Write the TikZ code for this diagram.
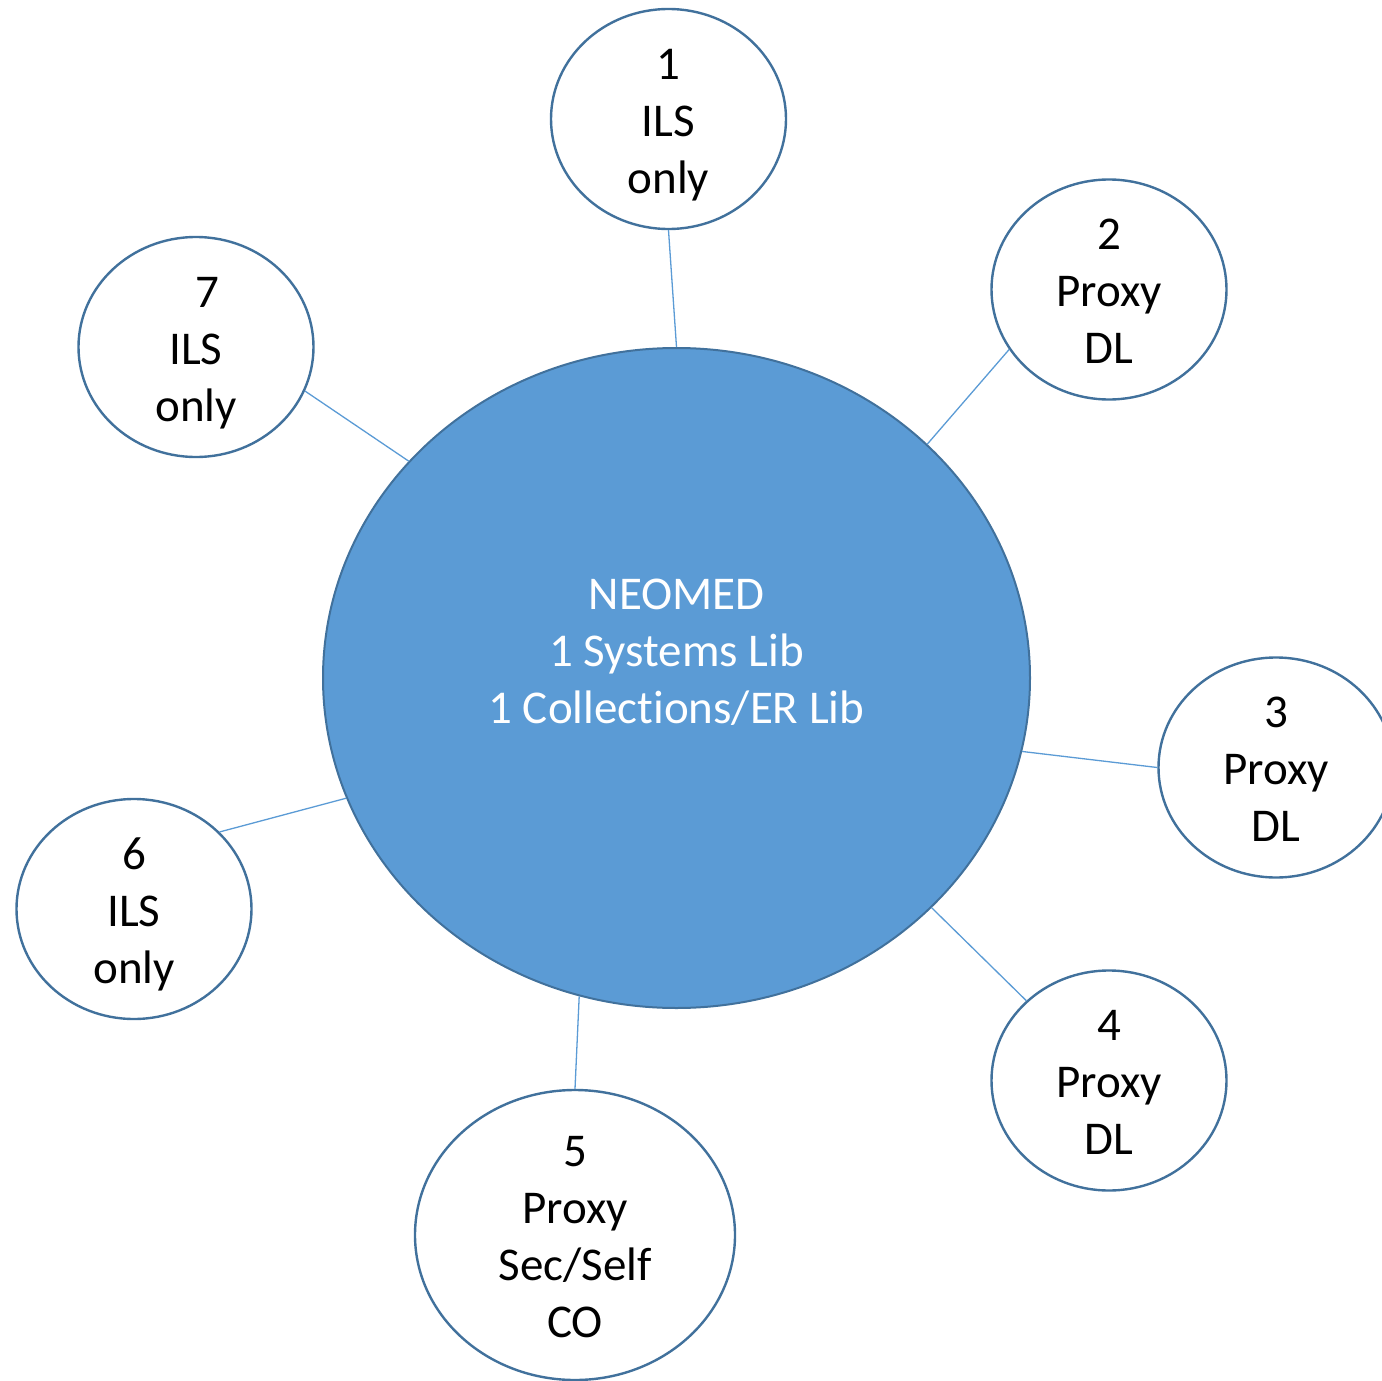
\documentclass[tikz,border=0pt]{standalone}
\usepackage{fontspec}
\setmainfont{Carlito}[Ligatures=NoCommon]
\usetikzlibrary{shapes.geometric}
\definecolor{hubfill}{HTML}{5B9BD5}
\definecolor{hubline}{HTML}{41719C}
\definecolor{linkcol}{HTML}{5B9BD5}
\newcommand\lnstrut{\rule[-10pt]{0pt}{54pt}}
\tikzset{
  sat/.style={ellipse, draw=hubline, line width=2.4pt, fill=white, inner sep=0pt,
    minimum width=235pt, minimum height=220pt},
  hubstyle/.style={ellipse, draw=hubline, line width=2pt, fill=hubfill, inner sep=0pt,
    minimum width=707pt, minimum height=660pt},
  txt/.style={align=center, inner sep=0pt, font=\fontsize{47}{57}\selectfont},
  link/.style={draw=linkcol, line width=1.3pt}
}
\begin{document}
\begin{tikzpicture}[x=1pt,y=-1pt]
\useasboundingbox (0,0) rectangle (1382,1381);
\clip (0,0) rectangle (1382,1381);
\node[hubstyle] (hub) at (676.5,678) {};
\node[sat] (e1) at (668.5,119) {};
\node[sat] (e2) at (1109,289.5) {};
\node[sat] (e3) at (1276,767.5) {};
\node[sat] (e4) at (1109,1080.5) {};
\node[sat, minimum width=320pt, minimum height=290pt] (e5) at (575,1235) {};
\node[sat] (e6) at (134,909) {};
\node[sat] (e7) at (196,347) {};
\draw[link] (e1.south) -- (hub.north);
\draw[link] (e2.211) -- (hub.43);
\draw[link] (e3.180) -- (hub.-12.4);
\draw[link] (e4.136.9) -- (hub.-42.9);
\draw[link] (e5.90) -- (hub.253.3);
\draw[link] (e6.42.9) -- (hub.200.1);
\draw[link] (e7.-22.7) -- (hub.141.9);
\node[txt, text=white] (hubtext) at (676.5,649) {\lnstrut NEOMED\\ \lnstrut 1 Systems Lib\\ \lnstrut 1 Collections/ER Lib};
\node[txt] (t1) at (e1.center) {\lnstrut 1\\ \lnstrut ILS\\ \lnstrut only};
\node[txt] (t2) at (e2.center) {\lnstrut 2\\ \lnstrut Proxy\\ \lnstrut DL};
\node[txt] (t3) at (e3.center) {\lnstrut 3\\ \lnstrut Proxy\\ \lnstrut DL};
\node[txt] (t4) at (e4.center) {\lnstrut 4\\ \lnstrut Proxy\\ \lnstrut DL};
\node[txt] (t5) at (e5.center) {\lnstrut 5\\ \lnstrut Proxy\\ \lnstrut Sec/Self\\ \lnstrut CO};
\node[txt] (t6) at (e6.center) {\lnstrut 6\\ \lnstrut ILS\\ \lnstrut only};
\node[txt] (t7) at (e7.center) {\lnstrut \hspace*{22pt}7\\ \lnstrut ILS\\ \lnstrut only};
\end{tikzpicture}
\end{document}
